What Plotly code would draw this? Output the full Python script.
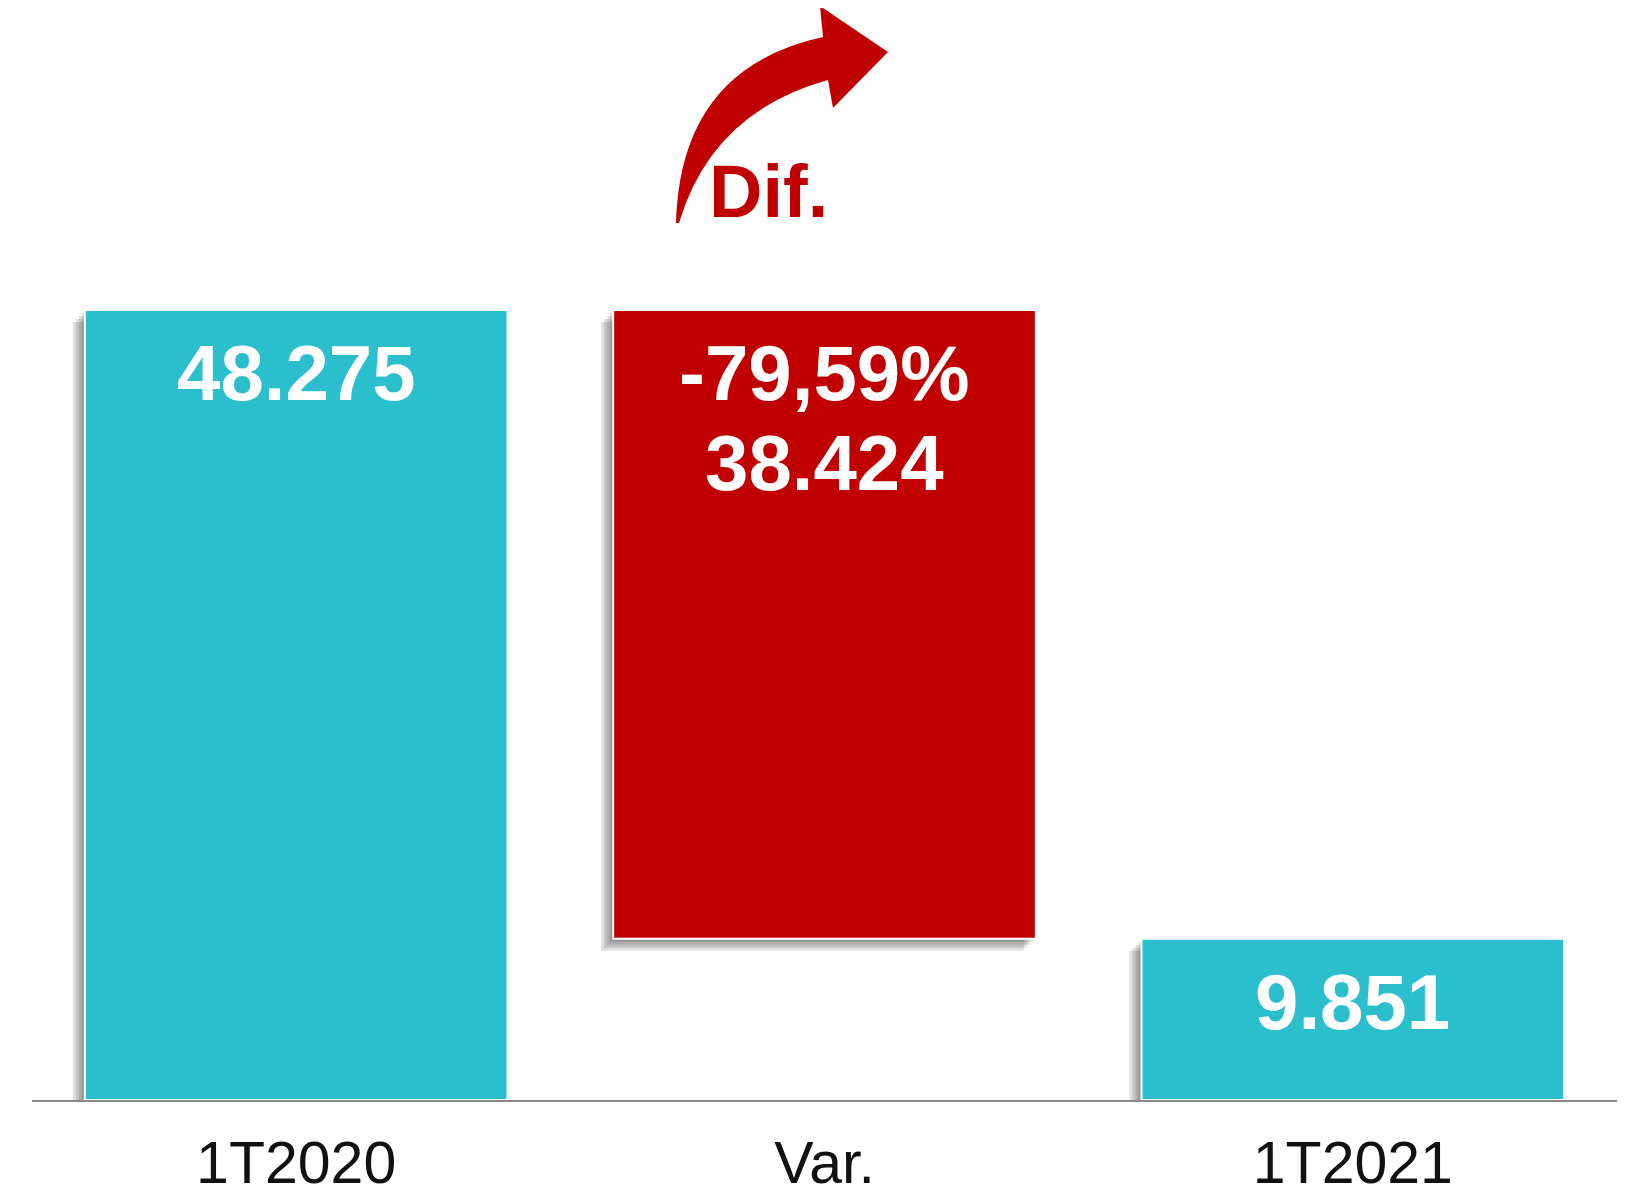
import plotly.graph_objects as go

categories = ["1T2020", "Var.", "1T2021"]
bar_values = [48275, 38424, 9851]
bar_bases = [0, 9851, 0]
value_labels = ["48.275", "38.424", "9.851"]
var_pct_label = "-79,59%"
dif_label = "Dif."

TEAL = "#2BBFCD"
RED = "#C00000"
colors = [TEAL, RED, TEAL]

# page has an 8px body margin; figure placed to compensate
OFF = 8
W, H = 1627 - 2 * OFF, 1197
ML, MR, MT = 32 - OFF, 2, 0
plot_h = 1100 - OFF
MB = H - MT - plot_h
plot_w = W - ML - MR
px_per_y = 790 / 48275
ymax = plot_h / px_per_y
px_per_x = plot_w / 3.0

fig = go.Figure()

# soft shadow layers (left and bottom)
for d in [3, 6, 9, 12]:
    fig.add_trace(go.Bar(
        x=categories, y=bar_values,
        base=[b - d / px_per_y for b in bar_bases],
        width=0.8, offset=-0.4 - d / px_per_x,
        marker=dict(color="rgba(0,0,0,0.12)", line=dict(width=0)),
        hoverinfo="skip", showlegend=False,
    ))

fig.add_trace(go.Bar(
    x=categories, y=bar_values, base=bar_bases,
    width=0.8,
    marker=dict(color=colors, line=dict(color="white", width=2)),
    hoverinfo="skip", showlegend=False,
))

FONT = "Liberation Sans, Arial, sans-serif"

annotations = []
tops = [b + v for b, v in zip(bar_bases, bar_values)]
for i, cat in enumerate(categories):
    if i == 1:
        annotations.append(dict(x=cat, y=tops[i], xref="x", yref="y", text="<b>%s</b>" % var_pct_label,
                                showarrow=False, yanchor="top", yshift=-17,
                                font=dict(family=FONT, size=78, color="white")))
        annotations.append(dict(x=cat, y=tops[i], xref="x", yref="y", text="<b>%s</b>" % value_labels[i],
                                showarrow=False, yanchor="top", yshift=-107,
                                font=dict(family=FONT, size=78, color="white")))
    else:
        annotations.append(dict(x=cat, y=tops[i], xref="x", yref="y", text="<b>%s</b>" % value_labels[i],
                                showarrow=False, yanchor="top", yshift=-17,
                                font=dict(family=FONT, size=78, color="white")))


def P(px, py):
    # px, py in page pixels
    fx, fy = px - OFF, py - OFF
    return "%.5f,%.5f" % ((fx - ML) / plot_w, (plot_h - fy) / plot_h)

arrow_path = (
    "M " + P(676, 223)
    + " Q " + P(680, 68) + " " + P(823, 37)
    + " L " + P(820, 6)
    + " L " + P(888, 52)
    + " L " + P(833, 108)
    + " L " + P(828, 80)
    + " Q " + P(712, 112) + " " + P(679, 223)
    + " Z"
)

fig.add_shape(type="path", path=arrow_path, xref="paper", yref="paper",
              fillcolor=RED, line=dict(width=0), layer="above")

annotations.append(dict(x=(768 - OFF - ML) / plot_w, y=(plot_h - (192 - OFF)) / plot_h,
                        xref="paper", yref="paper",
                        text="<b>%s</b>" % dif_label, showarrow=False,
                        xanchor="center", yanchor="middle",
                        font=dict(family=FONT, size=74, color=RED)))

fig.update_layout(
    width=W, height=H,
    margin=dict(l=ML, r=MR, t=MT, b=MB, pad=0, autoexpand=False),
    paper_bgcolor="white", plot_bgcolor="white",
    barmode="overlay",
    annotations=annotations,
    xaxis=dict(range=[-0.5, 2.5], showline=True, linecolor="#8a8a8a", linewidth=2,
               showgrid=False, zeroline=False, ticks="", ticklabelstandoff=10,
               automargin=False,
               tickfont=dict(family=FONT, size=59, color="#111111")),
    yaxis=dict(range=[0, ymax], visible=False, showgrid=False, zeroline=False, automargin=False),
)

fig.write_html("out.html")
